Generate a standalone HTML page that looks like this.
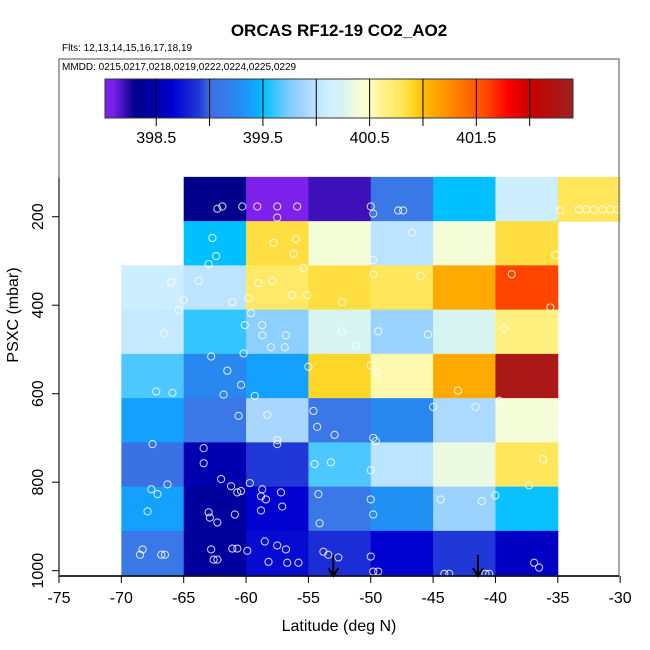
<!DOCTYPE html>
<html><head><meta charset="utf-8"><style>
html,body{margin:0;padding:0;background:#fff}
svg{display:block;font-family:"Liberation Sans",sans-serif}
</style></head><body>
<svg id="chart" width="650" height="650" viewBox="0 0 650 650" xmlns="http://www.w3.org/2000/svg">
<text x="339" y="36" text-anchor="middle" font-size="17" font-weight="bold">ORCAS RF12-19 CO2_AO2</text>
<text x="62" y="51" font-size="10">Flts: 12,13,14,15,16,17,18,19</text>
<text x="62" y="70" font-size="10">MMDD: 0215,0217,0218,0219,0222,0224,0225,0229</text>
<g id="cells"></g>
<g id="pts"></g>
<g id="arrows"></g>
<g id="cbar"></g>
<rect x="59" y="59" width="560" height="517" fill="none" stroke="#888" stroke-width="1.5"/>
<line x1="59" y1="576" x2="619" y2="576" stroke="#000" stroke-width="1.5"/>
<line x1="59" y1="178" x2="59" y2="576" stroke="#555" stroke-width="1.5"/>
<g id="xaxis"></g>
<g id="yaxis"></g>
<text x="339" y="631" text-anchor="middle" font-size="16">Latitude (deg N)</text>
<text transform="translate(18,315) rotate(-90)" text-anchor="middle" font-size="16">PSXC (mbar)</text>
</svg>
<script>
const latBins=[-70,-65,-60,-55,-50,-45,-40,-35];
const presCenters=[160,260,360,460,560,660,760,860,960];
const cellValues=[
 [null,398.3,398.05,398.2,399.1,399.5,400.1,400.8],
 [null,399.5,400.85,400.4,400.0,400.4,400.85,null],
 [400.1,400.0,400.75,400.85,400.8,401.1,401.6,null],
 [400.05,399.6,399.8,400.25,399.85,400.25,400.65,null],
 [399.65,399.25,399.4,400.9,400.55,401.1,402.3,null],
 [399.4,399.1,399.9,399.1,399.25,399.92,400.4,null],
 [399.05,398.5,398.9,399.65,400.0,400.35,400.8,null],
 [399.4,398.4,398.65,399.1,399.3,399.85,399.52,null],
 [399.1,398.4,398.7,398.85,398.65,398.9,398.6,null]
];
const ptLat=[-62.3,-61.9,-60.3,-59.1,-57.5,-57.5,-55.9,-50.0,-49.8,-47.8,-47.4,-34.8,-33.3,-32.7,-32.1,-31.4,-30.8,-30.2,
-62.7,-62.4,-63.0,-57.8,-56.0,-56.2,-55.4,-49.8,-46.7,-35.2,
-63.8,-66.0,-65.0,-59.0,-57.9,-59.8,-56.3,-55.1,-52.3,-49.8,-46.0,-38.7,-35.6,-61.1,-65.4,-66.6,
-60.1,-58.7,-59.6,-58.7,-56.8,-56.9,-58.0,-60.2,-52.3,-49.4,-45.4,-39.3,-51.2,
-62.8,-61.5,-60.4,-61.8,-67.2,-65.9,-55.0,-50.0,-49.5,-43.0,-39.7,
-58.3,-54.6,-60.6,-59.3,-45.0,-41.6,-67.5,-63.4,-57.5,-57.5,-54.3,-52.9,-49.8,-49.6,
-63.4,-62.0,-61.2,-60.7,-60.4,-58.8,-59.7,-58.7,-57.2,-54.5,-53.2,-50.0,-36.2,-37.3,-67.6,-66.3,-67.1,
-67.9,-63.0,-62.9,-62.3,-60.9,-58.8,-58.4,-57.1,-54.2,-54.1,-50.0,-49.8,-44.4,-41.1,-40.0,
-68.3,-68.5,-66.8,-66.5,-62.8,-62.6,-62.3,-61.1,-60.7,-59.9,-58.5,-57.5,-56.8,-58.2,-56.7,-55.8,-53.8,-53.4,-52.6,-50.0,-49.8,-49.4,-44.1,-43.7,-40.8,-40.5,-36.9,-36.5];
const ptPres=[182,177,177,177,177,202,177,177,193,186,186,186,184,184,184,184,184,184,
248,289,307,259,250,284,316,298,236,286,
345,348,389,350,345,384,377,377,393,330,334,330,405,393,411,464,
445,445,418,468,468,495,495,509,459,459,466,452,491,
516,548,580,602,595,598,539,536,552,593,616,
648,639,650,605,630,630,714,723,705,714,675,693,700,707,
757,793,809,823,820,832,802,816,823,759,755,773,748,807,816,805,827,
866,868,880,891,873,864,839,855,827,893,839,873,839,843,830,
952,964,964,964,952,975,975,950,950,955,934,943,952,980,982,982,957,964,970,968,1002,1002,1007,1007,1007,1007,982,993];
const arrowLat=[-53.0,-41.4];
const xTicks=[-75,-70,-65,-60,-55,-50,-45,-40,-35,-30];
const yTicks=[200,400,600,800,1000];
const cbTicks=[398.5,399.5,400.5,401.5];
const cbBreaks=[398.5,399,399.5,400,400.5,401,401.5,402];

const X=v=>59+(v+75)*12.47;
const Y=p=>216.7+(p-200)*0.4425;
const CBX=v=>105+(v-398.02)*106.7;
const stops=[[398.0,[128,32,240]],[398.1,[122,31,230]],[398.3,[0,0,139]],[398.5,[0,0,176]],[398.65,[0,0,208]],
[398.9,[32,56,216]],[399.0,[58,108,224]],[399.1,[58,120,232]],[399.25,[40,136,240]],[399.4,[20,160,255]],
[399.5,[0,192,255]],[399.75,[128,204,255]],[399.9,[168,214,255]],[400.0,[189,228,255]],[400.1,[205,238,255]],
[400.25,[216,244,240]],[400.4,[245,252,216]],[400.5,[255,255,200]],[400.65,[255,240,128]],[400.8,[255,230,90]],
[400.9,[255,215,40]],[401.0,[255,190,10]],[401.1,[255,170,0]],[401.4,[255,110,0]],[401.6,[255,69,0]],
[401.8,[255,0,0]],[402.0,[200,0,0]],[402.4,[160,32,32]]];
function col(v){
 if(v<=stops[0][0])return 'rgb('+stops[0][1]+')';
 for(let i=1;i<stops.length;i++){if(v<=stops[i][0]){const a=stops[i-1],b=stops[i],t=(v-a[0])/(b[0]-a[0]);
  return 'rgb('+a[1].map((c,k)=>Math.round(c+(b[1][k]-c)*t)).join(',')+')';}}
 return 'rgb('+stops[stops.length-1][1]+')';
}
const NS='http://www.w3.org/2000/svg';
function mk(tag,attrs,parent){const e=document.createElementNS(NS,tag);for(const k in attrs)e.setAttribute(k,attrs[k]);parent.appendChild(e);return e;}
const gC=document.getElementById('cells');
cellValues.forEach((row,r)=>row.forEach((v,c)=>{if(v===null)return;
 const x0=X(latBins[c]),x1=X(latBins[c]+5),y0=Y(presCenters[r]-50),y1=Y(presCenters[r]+50);
 const e=mk('rect',{x:x0,y:y0,width:x1-x0+0.5,height:y1-y0+0.5,fill:col(v)},gC);
 
 
}));
const gP=document.getElementById('pts');
ptLat.forEach((la,i)=>{const e=mk('circle',{cx:X(la),cy:Y(ptPres[i]),r:3.6,fill:'none',stroke:'rgba(255,255,255,0.85)','stroke-width':1},gP);
 
 
});
const gA=document.getElementById('arrows');
arrowLat.forEach(la=>{const x=X(la);const g=mk('g',{},gA);
 
 
 mk('line',{x1:x,y1:555,x2:x,y2:575,stroke:'#000','stroke-width':2},g);
 mk('path',{d:`M${x-5},568 L${x},576 L${x+5},568`,fill:'none',stroke:'#000','stroke-width':2},g);
});
const gX=document.getElementById('xaxis');
xTicks.forEach(t=>{const x=X(t);mk('line',{x1:x,y1:576,x2:x,y2:583,stroke:'#000'},gX);
 const tx=mk('text',{x:x,y:603,'text-anchor':'middle','font-size':16},gX);tx.textContent=t;
 
 
});
const gY=document.getElementById('yaxis');
yTicks.forEach(t=>{const y=Y(t);mk('line',{x1:52,y1:y,x2:59,y2:y,stroke:'#000'},gY);
 const tx=mk('text',{transform:`translate(43,${y}) rotate(-90)`,'text-anchor':'middle','font-size':16},gY);tx.textContent=t;
 
 
});
const gB=document.getElementById('cbar');
for(let px=105;px<573;px++){const v=398.02+(px+0.5-105)/106.7;mk('rect',{x:px,y:79,width:1.2,height:39,fill:col(v)},gB);}
mk('rect',{x:105,y:79,width:468,height:39,fill:'none',stroke:'#333','stroke-width':1},gB);
cbBreaks.forEach(b=>{const x=CBX(b);mk('line',{x1:x,y1:79,x2:x,y2:126,stroke:'#000','stroke-width':1},gB);});
cbTicks.forEach(t=>{const tx=mk('text',{x:CBX(t),y:143,'text-anchor':'middle','font-size':16},gB);tx.textContent=t;
 
 
});
</script>
</body></html>
